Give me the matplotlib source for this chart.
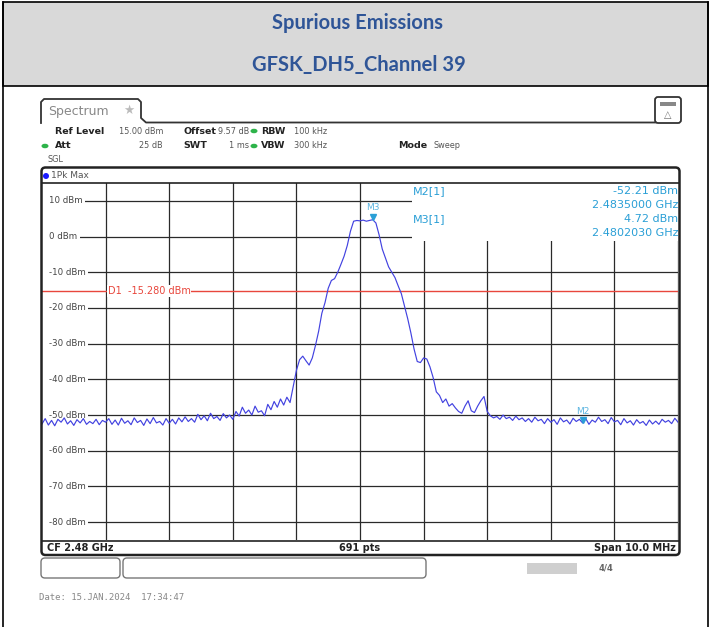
import numpy as np
import matplotlib.pyplot as plt
import matplotlib.transforms as mtransforms
from matplotlib.patches import Rectangle, FancyBboxPatch, Ellipse
from matplotlib.ticker import MultipleLocator

# sweep settings: CF 2.48 GHz, span 10 MHz
f_start = 2.475
f_stop = 2.485
ref_level = 15.0
bottom_level = -85.0
grid_db = [10, 0, -10, -20, -30, -40, -50, -60, -70, -80]

# trace (dBm), every 0.05 MHz
level = [
    -52.5, -51.0, -52.8, -51.5, -53.0, -51.2, -52.0, -50.8, -52.5, -51.6, -52.9,
    -51.3, -52.2, -51.0, -52.6, -51.8, -52.4, -51.2, -52.7, -51.5, -52.0,
    -51.0, -52.6, -51.4, -52.8, -50.9, -52.3, -51.6, -52.7, -50.8, -52.1,
    -51.5, -52.9, -51.1, -52.4, -50.7, -52.2, -51.8, -52.8, -51.0, -52.3,
    -51.2, -52.5, -50.8, -51.9, -50.5, -51.8, -51.0, -52.0, -49.8, -51.3,
    -50.2, -51.6, -49.5, -51.0, -50.4, -51.5, -49.6, -50.8, -50.0, -51.2,
    -49.0, -50.3, -47.8, -49.5, -48.6, -50.0, -47.5, -49.2, -48.8, -50.2,
    -47.0, -48.5, -46.2, -47.8, -45.5, -47.2, -45.0, -46.5,
    -42.0, -37.5, -34.5, -33.5, -34.8, -36.0, -34.0, -30.5, -26.5, -21.5,
    -18.5, -14.5, -12.3, -11.8, -10.0, -7.8, -5.5, -2.5, 1.5, 4.3,
    4.5, 4.4, 4.6, 4.3, 4.5, 4.72, 3.8, 0.5, -3.5, -6.0,
    -8.5, -10.0, -11.5, -13.8, -16.0, -19.5, -23.0, -27.0, -31.5, -35.0,
    -35.3, -34.0, -34.3, -36.5, -39.5, -43.5, -44.5, -46.5, -45.5, -47.5,
    -46.8, -48.0, -49.0, -49.5, -47.5, -46.0, -48.8, -49.3, -47.5, -46.0,
    -44.8, -49.0,
    -50.2, -50.8, -50.4, -51.2, -50.0, -51.0, -50.6, -51.5, -50.3, -51.3,
    -50.8, -51.8, -51.0, -52.0, -50.6, -51.6, -51.2, -52.4, -51.0, -52.0,
    -51.3, -52.6, -50.8, -51.9, -51.4, -52.5, -50.9, -51.8, -51.2, -52.21,
    -51.0, -52.6, -51.4, -52.0, -50.6, -51.8, -51.3, -52.4, -50.7, -51.9,
    -51.5, -52.7, -51.0, -52.2, -51.6, -52.8, -51.3, -52.3, -51.8, -52.9,
    -51.4, -52.5, -51.7, -52.6, -51.2, -52.0, -51.5, -52.4, -50.9, -52.0,
]
freq = np.linspace(f_start, f_stop, len(level))

d1_level = -15.28
m2_freq, m2_level = 2.4835, -52.21
m3_freq, m3_level = 2.480203, 4.72

W, H = 711, 627
fig = plt.figure(figsize=(W / 100, H / 100), dpi=100)

# ---- analyzer grid ----
ax = fig.add_axes([42 / W, (H - 540) / H, 636 / W, 357 / H], zorder=1)
ax.set_xlim(f_start, f_stop)
ax.set_ylim(bottom_level, ref_level)
ax.xaxis.set_major_locator(MultipleLocator(0.001))
ax.set_yticks(grid_db)
ax.set_axisbelow(True)
ax.grid(color='#2a2a2a', lw=0.9)
ax.tick_params(length=0, labelbottom=False, labelleft=False)
for s in ax.spines.values():
    s.set_visible(False)

# blank area behind the marker table, and left of the level labels
ax.add_patch(Rectangle((0.582, -1.2), 0.418, ref_level + 1.2,
                       transform=ax.get_yaxis_transform(),
                       fc='white', ec='none', zorder=1))
ax.add_patch(Rectangle((0, 0), 0.012, 1, transform=ax.transAxes,
                       fc='white', ec='none', zorder=1))

for v in grid_db:
    ax.text(0.011, v, f'{v} dBm', transform=ax.get_yaxis_transform(),
            va='center', ha='left', fontsize=6.2, color='#444',
            bbox=dict(fc='white', ec='none', pad=1.8), zorder=3)

ax.axhline(d1_level, color='#e8463c', lw=1, zorder=2)
ax.text(2.47603, d1_level, f'D1  {d1_level:.3f} dBm', va='center', ha='left',
        fontsize=7, color='#e8463c',
        bbox=dict(fc='white', ec='none', pad=0.6), zorder=3)

ax.plot(freq, level, color='#4242e0', lw=0.85, zorder=4)

mk_col = '#2a9fd6'
lift = ax.transData + mtransforms.ScaledTranslation(0, 3 / 100, fig.dpi_scale_trans)
for f, l, name in [(m3_freq, m3_level, 'M3'), (m2_freq, m2_level, 'M2')]:
    ax.plot([f], [l], marker='v', ms=5, color=mk_col, zorder=5, transform=lift)
    ax.annotate(name, xy=(f, l), xytext=(0, 8.5), textcoords='offset points',
                ha='center', va='center', fontsize=6.5, color='#5ab4e0', zorder=5)

# ---- overlay in pixel coordinates ----
fg = fig.add_axes([0, 0, 1, 1], zorder=2)
fg.set_xlim(0, W)
fg.set_ylim(H, 0)
fg.axis('off')
fg.patch.set_visible(False)

# document table header
fg.add_patch(Rectangle((3, 1.5), 705, 84.5, fc='#d9d9d9', ec='black', lw=1.2))
fg.plot([3, 3], [1.5, H], color='black', lw=1.2)
fg.plot([708, 708], [1.5, H], color='black', lw=1.2)
title_col = '#2f5597'
fg.text(357, 23, 'Spurious Emissions', ha='center', va='center',
        fontsize=14.5, fontweight='bold', color=title_col, family='Lato')
fg.text(359, 65, 'GFSK_DH5_Channel 39', ha='center', va='center',
        fontsize=14.5, fontweight='bold', color=title_col, family='Lato')

# tab + header line
fg.plot([41, 41, 44, 138, 141, 141, 146, 655],
        [123, 102, 99, 99, 102, 118, 122.5, 122.5], color='#333', lw=1.3)
fg.text(48, 111, 'Spectrum', ha='left', va='center', fontsize=9, color='#888')
fg.text(129, 110, '\u2605', ha='center', va='center', fontsize=9, color='#bbb')
fg.add_patch(FancyBboxPatch((655, 97), 26, 26, boxstyle='round,pad=0,rounding_size=3',
                            fc='white', ec='#333', lw=1.3))
fg.add_patch(Rectangle((660, 102), 16, 4, fc='#888', ec='none'))
fg.text(668, 115, '\u25b3', ha='center', va='center', fontsize=7, color='#777')

# settings block
bold_kw = dict(fontsize=6.8, fontweight='bold', color='#222', va='center')
norm_kw = dict(fontsize=5.9, color='#555', va='center')
fg.text(55, 131, 'Ref Level', ha='left', **bold_kw)
fg.text(163, 131, f'{ref_level:.2f} dBm', ha='right', **norm_kw)
fg.text(183, 131, 'Offset', ha='left', **bold_kw)
fg.text(249, 131, '9.57 dB', ha='right', **norm_kw)
fg.text(261, 131, 'RBW', ha='left', **bold_kw)
fg.text(294, 131, '100 kHz', ha='left', **norm_kw)
fg.text(55, 146, 'Att', ha='left', **bold_kw)
fg.text(163, 146, '25 dB', ha='right', **norm_kw)
fg.text(183, 146, 'SWT', ha='left', **bold_kw)
fg.text(249, 146, '1 ms', ha='right', **norm_kw)
fg.text(261, 146, 'VBW', ha='left', **bold_kw)
fg.text(294, 146, '300 kHz', ha='left', **norm_kw)
fg.text(398, 146, 'Mode', ha='left', **bold_kw)
fg.text(433, 146, 'Sweep', ha='left', **norm_kw)
fg.text(48, 160, 'SGL', ha='left', **norm_kw)
for x, y in [(254, 131), (254, 146), (45, 146)]:
    fg.add_patch(Ellipse((x, y), 7, 4.5, fc='#2db34a', ec='none'))

# trace window frame
fg.add_patch(FancyBboxPatch((41.5, 167.5), 638, 387.5,
                            boxstyle='round,pad=0,rounding_size=4',
                            fc='none', ec='#222', lw=1.8))
fg.plot([42, 679], [182.5, 182.5], color='#222', lw=1.2)
fg.plot([42, 679], [540.5, 540.5], color='#222', lw=1.2)
fg.add_patch(Ellipse((46, 176), 6, 6, fc='#1a1aff', ec='none'))
fg.text(51, 176, '1Pk Max', ha='left', fontsize=6.5, color='#555', va='center')

# marker table
mt = dict(fontsize=8, color=mk_col, va='center')
fg.text(413, 191, 'M2[1]', ha='left', **mt)
fg.text(678, 191, f'{m2_level:.2f} dBm', ha='right', **mt)
fg.text(678, 205, f'{m2_freq:.7f} GHz', ha='right', **mt)
fg.text(413, 219, 'M3[1]', ha='left', **mt)
fg.text(678, 219, f'{m3_level:.2f} dBm', ha='right', **mt)
fg.text(678, 233, f'{m3_freq:.7f} GHz', ha='right', **mt)

# footer row
ft = dict(fontsize=7, fontweight='bold', color='#222', va='center')
fg.text(47, 548, f'CF {(f_start + f_stop) / 2:.2f} GHz', ha='left', **ft)
fg.text(360, 548, '691 pts', ha='center', **ft)
fg.text(676, 548, f'Span {(f_stop - f_start) * 1000:.1f} MHz', ha='right', **ft)

# status bar
fg.add_patch(FancyBboxPatch((41, 558), 79, 20, boxstyle='round,pad=0,rounding_size=4',
                            fc='white', ec='#777', lw=1))
fg.add_patch(FancyBboxPatch((123, 558), 303, 20, boxstyle='round,pad=0,rounding_size=4',
                            fc='white', ec='#777', lw=1))
fg.add_patch(Rectangle((527, 563), 50, 11, fc='#cfcfcf', ec='none'))
fg.text(606, 568, '4/4', ha='center', va='center', fontsize=6, color='#666',
        fontweight='bold')
fg.text(39, 597, 'Date: 15.JAN.2024  17:34:47', ha='left', va='center',
        fontsize=6.5, color='#888', family='DejaVu Sans Mono')

fig.savefig('out.png', dpi=100)
